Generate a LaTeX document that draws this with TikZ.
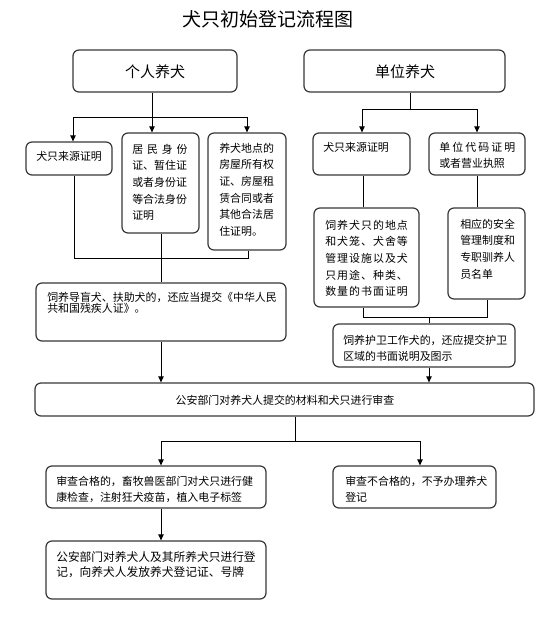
\documentclass[tikz,border=0pt]{standalone}
\usepackage{fontspec}
\setmainfont{Noto Sans CJK SC}
\usetikzlibrary{arrows.meta,fit}
\newcommand\bfnt[1]{\fontsize{8.2}{#1}\selectfont}
\newcommand\spr[2]{\makebox[#1][s]{#2}}
\begin{document}
\begin{tikzpicture}[x=0.75pt,y=-0.75pt,
  bx/.style={draw=black!78, line width=0.9pt, rounded corners=4.5pt, inner sep=0pt},
  ln/.style={draw=black, line width=0.75pt},
  arr/.style={ln, -{Triangle[length=4.5pt,width=4pt]}},
  tx/.style={anchor=base west, inner sep=0pt}]
\useasboundingbox (0,0) rectangle (548,619);
\fill[white] (0,0) rectangle (548,619);

% title
\node[font=\fontsize{14.25}{16}\selectfont] (title) at (268,19) {犬只初始登记流程图};

% top boxes
\node[bx, fit={(73,50) (237,92)}] (p) {};
\node[font=\fontsize{11.25}{13}\selectfont, inner sep=0pt] (pt) at (155,72) {个人养犬};
\node[bx, fit={(304,50) (505,92)}] (u) {};
\node[font=\fontsize{11.25}{13}\selectfont, inner sep=0pt] (ut) at (405,72) {单位养犬};

% boxes
\node[bx, fit={(26,142) (112,175)}] (a1) {};
\node[bx, fit={(122,133) (199,233)}] (a2) {};
\node[bx, fit={(208,133) (286,250)}] (a3) {};
\node[bx, fit={(313,133) (410,175)}] (b1) {};
\node[bx, fit={(429,133) (525,175)}] (b2) {};
\node[bx, fit={(314,208) (419,307)}] (b3) {};
\node[bx, fit={(448,208) (525,299)}] (b4) {};
\node[bx, fit={(36,283) (286,341)}] (c) {};
\node[bx, fit={(333,324) (515,367)}] (d) {};
\node[bx, fit={(35,383) (534,416)}] (e) {};
\node[bx, fit={(46,466) (266,508)}] (f1) {};
\node[bx, fit={(333,466) (496,508)}] (f2) {};
\node[bx, fit={(46,541) (266,599)}] (g) {};

% texts
\node[tx] (ta1) at (36,160) {\parbox[t]{200pt}{\bfnt{12.5}犬只来源证明}};
\node[tx] (ta2) at (132,153) {\parbox[t]{200pt}{\bfnt{12.5}\spr{41.5pt}{居\hfill 民\hfill 身\hfill 份}\\证、暂住证\\或者身份证\\等合法身份\\证明}};
\node[tx] (ta3) at (219,152) {\parbox[t]{200pt}{\bfnt{12.5}养犬地点的\\房屋所有权\\证、房屋租\\赁合同或者\\其他合法居\\住证明。}};
\node[tx] (tb1) at (323,151) {\parbox[t]{200pt}{\bfnt{12.5}犬只来源证明}};
\node[tx] (tb2) at (439,151) {\parbox[t]{200pt}{\bfnt{12}\spr{57pt}{单\hfill 位\hfill 代\hfill 码\hfill 证\hfill 明}\\或者营业执照}};
\node[tx] (tb3) at (325,229) {\parbox[t]{200pt}{\bfnt{12.5}%
\spr{62pt}{饲\hfill 养\hfill 犬\hfill 只\hfill 的\hfill 地\hfill 点}\\
\spr{62pt}{和\hfill 犬\hfill 笼\hfill 、\hfill 犬\hfill 舍\hfill 等}\\
\spr{62pt}{管\hfill 理\hfill 设\hfill 施\hfill 以\hfill 及\hfill 犬}\\
\spr{62pt}{只\hfill 用\hfill 途\hfill 、\hfill 种\hfill 类\hfill 、}\\
\spr{62pt}{数\hfill 量\hfill 的\hfill 书\hfill 面\hfill 证\hfill 明}}};
\node[tx] (tb4) at (460,228) {\parbox[t]{200pt}{\bfnt{12.5}相应的安全\\管理制度和\\专职驯养人\\员名单}};
\node[tx] (tc) at (47,301) {\parbox[t]{300pt}{\bfnt{8.6}饲养导盲犬、扶助犬的，还应当提交《中华人民\\共和国残疾人证》。}};
\node[tx] (td) at (343,344) {\parbox[t]{300pt}{\bfnt{12}饲养护卫工作犬的，还应提交护卫\\区域的书面说明及图示}};
\node[inner sep=0pt, font=\bfnt{12}] (te) at (285,400) {公安部门对养犬人提交的材料和犬只进行审查};
\node[tx] (tf1) at (56,485) {\parbox[t]{300pt}{\bfnt{12}审查合格的，畜牧兽医部门对犬只进行健\\康检查，注射狂犬疫苗，植入电子标签}};
\node[tx] (tf2) at (345,485) {\parbox[t]{300pt}{\bfnt{12}审查不合格的，不予办理养犬\\登记}};
\node[tx] (tg) at (56,561) {\parbox[t]{300pt}{\fontsize{8.8}{11.4}\selectfont 公安部门对养犬人及其所养犬只进行登\\记，向养犬人发放养犬登记证、号牌}};

% connectors, left
\coordinate (jp) at (152,117);
\coordinate (hl) at (73,117);
\coordinate (hr) at (247,117);
\draw[ln] (p.south -| jp) -- (jp);
\draw[ln] (hl) -- (hr);
\draw[arr] (hl) -- (hl |- a1.north);
\draw[arr] (jp) -- (jp |- a2.north);
\draw[arr] (hr) -- (hr |- a3.north);
\coordinate (ml) at (74,258);
\coordinate (mr) at (248,258);
\coordinate (mc) at (161,258);
\draw[ln] (a1.south -| ml) -- (ml) -- (mr) -- (a3.south -| mr);
\draw[ln] (a2.south -| mc) -- (c.north -| mc);
\draw[arr] (c.south -| mc) -- (e.north -| mc);

% connectors, right
\coordinate (ju) at (410,109);
\coordinate (ul) at (362,109);
\coordinate (ur) at (477,109);
\draw[ln] (u.south -| ju) -- (ju);
\draw[ln] (ul) -- (ur);
\draw[arr] (ul) -- (ul |- b1.north);
\draw[arr] (ur) -- (ur |- b2.north);
\coordinate (vl) at (363,317);
\coordinate (vr) at (487,317);
\coordinate (vc) at (429,317);
\draw[ln] (b1.south -| vl) -- (b3.north -| vl);
\draw[ln] (b2.south -| ur) -- (b4.north -| ur);
\draw[ln] (b3.south -| vl) -- (vl) -- (vr) -- (b4.south -| vr);
\draw[ln] (vc) -- (d.north -| vc);
\draw[arr] (d.south -| vc) -- (e.north -| vc);

% connectors, bottom
\coordinate (je) at (295,441);
\coordinate (fl) at (161,441);
\coordinate (fr) at (420,441);
\draw[ln] (e.south -| je) -- (je);
\draw[ln] (fl) -- (fr);
\draw[arr] (fl) -- (fl |- f1.north);
\draw[arr] (fr) -- (fr |- f2.north);
\draw[arr] (f1.south -| fl) -- (g.north -| fl);
\end{tikzpicture}
\end{document}
